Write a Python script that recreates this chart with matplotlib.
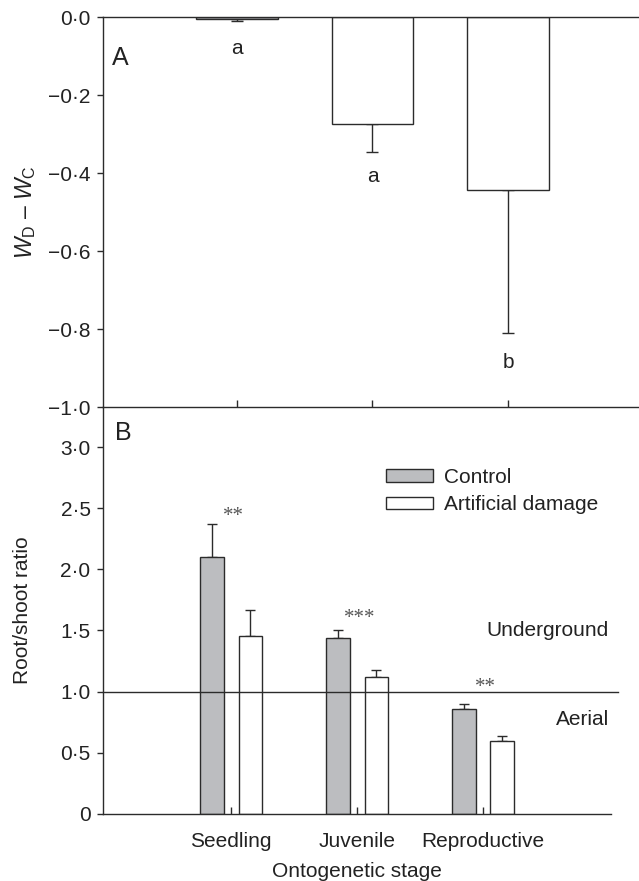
import numpy as np
import matplotlib
matplotlib.use("Agg")
import matplotlib.pyplot as plt

plt.rcParams['font.family'] = ['Liberation Sans', 'DejaVu Sans']
plt.rcParams['mathtext.fontset'] = 'custom'
plt.rcParams['mathtext.rm'] = 'Liberation Sans'
plt.rcParams['mathtext.it'] = 'Liberation Sans:italic'
plt.rcParams['font.size'] = 15

stages = ['Seedling', 'Juvenile', 'Reproductive']

# panel A: difference in biomass, damaged minus control
wd_wc = [-0.006, -0.274, -0.443]
wd_wc_err = [0.003, 0.072, 0.367]
wd_letters = ['a', 'a', 'b']
wd_letter_y = [-0.08, -0.41, -0.887]

# panel B: root/shoot ratio
control = [2.10, 1.44, 0.86]
control_err = [0.27, 0.06, 0.04]
damage = [1.455, 1.12, 0.60]
damage_err = [0.215, 0.06, 0.04]
signif = ['**', '***', '**']
signif_y = [2.43, 1.60, 1.03]

a_ticks = [0, -0.2, -0.4, -0.6, -0.8, -1.0]
a_ticklabels = ['0·0', '−0·2', '−0·4', '−0·6', '−0·8', '−1·0']
b_ticks = [0, 0.5, 1.0, 1.5, 2.0, 2.5, 3.0]
b_ticklabels = ['0', '0·5', '1·0', '1·5', '2·0', '2·5', '3·0']

grey = '#bcbdc0'
edge = '#2b2b2b'
txt = '#222222'
lw = 1.0
fs = 15

fig = plt.figure(figsize=(6.39, 8.81), dpi=100)
ax1 = fig.add_axes([0.1612, 0.538, 0.8388, 0.4427])
ax2 = fig.add_axes([0.1612, 0.0761, 0.795, 0.4619])
ax2.patch.set_visible(False)

x = np.arange(len(stages))

# ---- panel A ----
colors_a = [grey, 'white', 'white']
ax1.bar(x, wd_wc, width=0.605, color=colors_a, edgecolor=edge, linewidth=lw, zorder=2)
ax1.errorbar(x, wd_wc, yerr=[wd_wc_err, [0, 0, 0]], fmt='none', ecolor=edge,
             elinewidth=lw, capsize=4.2, capthick=lw, zorder=1)
for xi, lab, ly in zip(x, wd_letters, wd_letter_y):
    ax1.text(xi, ly, lab, ha='center', va='center', fontsize=fs, color=txt)
ax1.set_xlim(-0.989, 2.967)
ax1.set_ylim(-1.0, 0.0)
ax1.set_yticks(a_ticks)
ax1.set_yticklabels(a_ticklabels)
ax1.set_xticks(x)
ax1.set_xticklabels([])
ax1.spines['right'].set_visible(False)
for s in ['left', 'top', 'bottom']:
    ax1.spines[s].set_linewidth(lw)
    ax1.spines[s].set_color(edge)
ax1.tick_params(axis='y', direction='out', length=4, width=lw, colors=edge,
                labelcolor=txt, labelsize=fs, pad=5)
ax1.tick_params(axis='x', direction='in', length=5, width=lw, colors=edge)
ax1.set_ylabel(r'$W_{\rm D}$ – $W_{\rm C}$', fontsize=16.5, color=txt)
ax1.yaxis.set_label_coords(-0.121, 0.5)
ax1.text(0.017, 0.895, 'A', transform=ax1.transAxes, fontsize=18,
         ha='left', va='center', color=txt)

# ---- panel B ----
off = 0.153
bw = 0.187
ax2.bar(x - off, control, width=bw, color=grey, edgecolor=edge, linewidth=lw,
        label='Control', zorder=2)
ax2.bar(x + off, damage, width=bw, color='white', edgecolor=edge, linewidth=lw,
        label='Artificial damage', zorder=2)
ax2.errorbar(x - off, control, yerr=[[0] * 3, control_err], fmt='none', ecolor=edge,
             elinewidth=lw, capsize=3.6, capthick=lw, zorder=1)
ax2.errorbar(x + off, damage, yerr=[[0] * 3, damage_err], fmt='none', ecolor=edge,
             elinewidth=lw, capsize=3.6, capthick=lw, zorder=1)
for xi, s, sy in zip(x, signif, signif_y):
    ax2.text(xi + 0.02, sy, s, ha='center', va='center', fontsize=15,
             family='Liberation Serif', color='#555555')

ax2.plot([0, 1.014], [1.0, 1.0], transform=ax2.get_yaxis_transform(),
         color=edge, linewidth=lw, clip_on=False, zorder=3)
ax2.text(3.0, 1.50, 'Underground', ha='right', va='center', fontsize=fs, color=txt)
ax2.text(3.0, 0.77, 'Aerial', ha='right', va='center', fontsize=fs, color=txt)

ax2.set_xlim(-1.016, 3.016)
ax2.set_ylim(0, 3.327)
ax2.set_yticks(b_ticks)
ax2.set_yticklabels(b_ticklabels)
ax2.set_xticks(x)
ax2.set_xticklabels(stages)
ax2.spines['right'].set_visible(False)
ax2.spines['top'].set_visible(False)
for s in ['left', 'bottom']:
    ax2.spines[s].set_linewidth(lw)
    ax2.spines[s].set_color(edge)
ax2.tick_params(axis='y', direction='out', length=4, width=lw, colors=edge,
                labelcolor=txt, labelsize=fs, pad=5)
ax2.tick_params(axis='x', direction='in', length=5, width=lw, colors=edge,
                labelcolor=txt, labelsize=fs, pad=13)
ax2.set_ylabel('Root/shoot ratio', fontsize=fs, color=txt)
ax2.yaxis.set_label_coords(-0.139, 0.5)
ax2.set_xlabel('Ontogenetic stage', fontsize=fs, labelpad=8, color=txt)
ax2.text(0.024, 0.935, 'B', transform=ax2.transAxes, fontsize=18,
         ha='left', va='center', color=txt)

leg = ax2.legend(loc='upper left', bbox_to_anchor=(0.540, 0.871), frameon=False,
                 handlelength=2.26, handleheight=0.53, handletextpad=0.53,
                 labelspacing=0.4, fontsize=fs, borderaxespad=0)
for t in leg.get_texts():
    t.set_color(txt)

fig.savefig('out.png', dpi=100)
